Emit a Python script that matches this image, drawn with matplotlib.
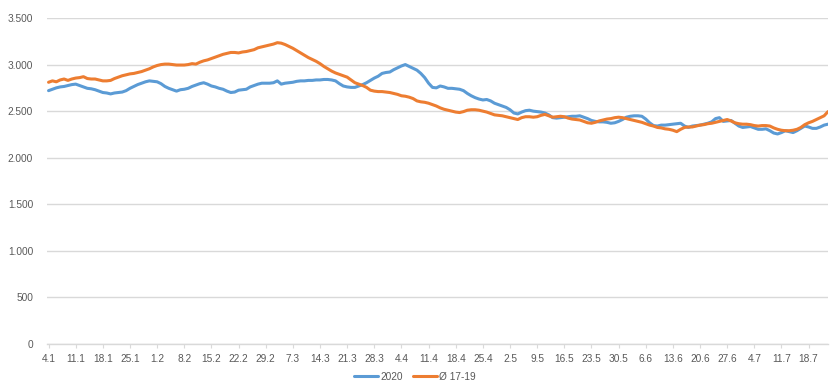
import numpy as np
import pandas as pd
import matplotlib
matplotlib.use('Agg')
import matplotlib.pyplot as plt
from matplotlib.ticker import FuncFormatter

plt.rcParams['font.family'] = ['Liberation Sans', 'DejaVu Sans']

# daily values, 4.1.2020 onwards
days = pd.date_range('2020-01-04', periods=202, freq='D')
day_labels = [f'{d.day}.{d.month}' for d in days]

# 2020
s2020 = [
    2720, 2735, 2750, 2760, 2765, 2775, 2785, 2790, 2775, 2760,
    2745, 2740, 2730, 2715, 2700, 2695, 2685, 2695, 2700, 2705,
    2720, 2745, 2765, 2785, 2800, 2815, 2825, 2820, 2815, 2795,
    2765, 2745, 2730, 2715, 2730, 2735, 2745, 2765, 2780, 2795,
    2805, 2790, 2770, 2760, 2745, 2735, 2715, 2700, 2705, 2725,
    2730, 2735, 2760, 2775, 2790, 2800, 2800, 2800, 2805, 2825,
    2790, 2800, 2805, 2810, 2820, 2825, 2825, 2830, 2830, 2835,
    2835, 2840, 2840, 2835, 2825, 2795, 2770, 2760, 2755, 2755,
    2770, 2785, 2805, 2830, 2855, 2875, 2905, 2915, 2920, 2945,
    2965, 2985, 3000, 2980, 2960, 2940, 2905, 2860, 2800, 2755,
    2750, 2770, 2760, 2745, 2745, 2740, 2735, 2720, 2690, 2665,
    2645, 2630, 2620, 2625, 2610, 2585, 2570, 2555, 2540, 2515,
    2480, 2470, 2490, 2505, 2510, 2500, 2495, 2490, 2480, 2460,
    2430, 2425, 2430, 2435, 2440, 2445, 2445, 2450, 2435, 2420,
    2400, 2390, 2385, 2385, 2380, 2370, 2375, 2390, 2410, 2435,
    2445, 2450, 2450, 2445, 2415, 2375, 2345, 2340, 2350, 2350,
    2355, 2360, 2365, 2370, 2340, 2325, 2340, 2345, 2350, 2360,
    2370, 2385, 2420, 2430, 2390, 2395, 2400, 2370, 2340, 2325,
    2330, 2335, 2320, 2305, 2305, 2310, 2290, 2265, 2255, 2270,
    2290, 2280, 2270, 2290, 2315, 2340, 2330, 2315, 2315, 2330,
    2350, 2360,
]

# average 2017-2019
s1719 = [
    2810, 2825, 2815, 2835, 2845, 2830, 2845, 2855, 2860, 2870,
    2850, 2845, 2845, 2835, 2825, 2825, 2830, 2850, 2865, 2880,
    2890, 2900, 2905, 2915, 2925, 2940, 2955, 2975, 2990, 3000,
    3005, 3005, 3000, 2995, 2995, 2995, 3000, 3010, 3005, 3025,
    3040, 3050, 3065, 3080, 3095, 3110, 3120, 3130, 3130, 3125,
    3135, 3140, 3150, 3160, 3180, 3190, 3200, 3210, 3220, 3235,
    3230, 3215, 3195, 3175, 3150, 3125, 3100, 3075, 3055, 3035,
    3010, 2980, 2955, 2930, 2910, 2895, 2880, 2865, 2835, 2805,
    2790, 2775, 2755, 2725, 2715, 2710, 2710, 2705, 2700, 2690,
    2680, 2665, 2660, 2650, 2635, 2610, 2600, 2595, 2585, 2570,
    2555, 2535, 2520, 2510, 2500, 2490, 2485, 2495, 2510, 2515,
    2515, 2510, 2500, 2490, 2475, 2460, 2455, 2450, 2440, 2430,
    2420, 2410, 2430, 2440, 2440, 2435, 2440, 2455, 2465, 2450,
    2435, 2440, 2445, 2440, 2425, 2415, 2410, 2405, 2390, 2375,
    2370, 2380, 2395, 2405, 2415, 2420, 2430, 2435, 2430, 2420,
    2410, 2400, 2390, 2380, 2365, 2350, 2340, 2325, 2320, 2310,
    2305, 2295, 2280, 2305, 2325, 2330, 2330, 2340, 2350, 2355,
    2365, 2370, 2380, 2390, 2400, 2410, 2395, 2375, 2365, 2360,
    2360, 2355, 2345, 2340, 2345, 2345, 2340, 2320, 2305, 2295,
    2290, 2290, 2295, 2305, 2325, 2355, 2375, 2390, 2410, 2430,
    2450, 2495,
]

x = np.arange(len(days))

fig = plt.figure(figsize=(8.3, 3.86), dpi=100)
ax = fig.add_axes([47/830, 1-344/386, 781/830, 326/386])

ax.plot(x, s2020, color='#5B9BD5', lw=2.2, label='2020', solid_capstyle='round')
ax.plot(x, s1719, color='#ED7D31', lw=2.2, label='Ø 17-19', solid_capstyle='round')

ax.set_ylim(0, 3500)
ax.set_xlim(-0.4, len(days)-1)
ax.set_yticks(np.arange(0, 3501, 500))
ax.yaxis.set_major_formatter(FuncFormatter(lambda v, p: f'{v:,.0f}'.replace(',', '.')))
ax.set_xticks(x[::7])
ax.set_xticklabels(day_labels[::7])

ax.grid(axis='y', color='#d9d9d9', lw=1)
ax.set_axisbelow(True)
for s in ['top', 'right', 'left']:
    ax.spines[s].set_visible(False)
ax.spines['bottom'].set_color('#d9d9d9')
ax.spines['bottom'].set_linewidth(1)
ax.tick_params(axis='y', length=0, pad=10, labelsize=7.3, labelcolor='#595959')
ax.tick_params(axis='x', length=3, color='#d9d9d9', pad=4, labelsize=7.3, labelcolor='#595959')

fig.legend(loc='lower center', bbox_to_anchor=(0.5, -0.012), ncol=2, frameon=False,
           fontsize=7.3, handlelength=2.4, handletextpad=0.2, columnspacing=1.0,
           labelcolor='#595959')

fig.savefig('out.png', dpi=100)
